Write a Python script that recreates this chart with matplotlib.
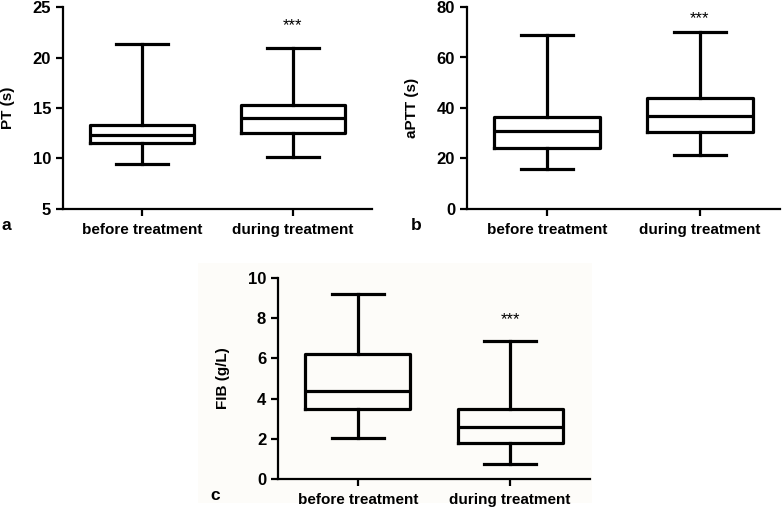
import matplotlib
matplotlib.use('Agg')
import matplotlib.pyplot as plt
from matplotlib.patches import Rectangle

plt.rcParams['font.family'] = ['Liberation Sans', 'DejaVu Sans']

groups = ['before treatment', 'during treatment']

# box stats: whislo, q1, med, q3, whishi
pt_before = [9.5, 11.5, 12.3, 13.3, 21.3]
pt_during = [10.1, 12.5, 14.0, 15.3, 20.9]
aptt_before = [16, 24, 31, 36.5, 69]
aptt_during = [21.5, 30.5, 37, 44, 70]
fib_before = [2.05, 3.5, 4.4, 6.2, 9.2]
fib_during = [0.75, 1.8, 2.6, 3.5, 6.85]

star_y = {'a': 23.2, 'b': 75.5, 'c': 7.95}

W, H = 782, 508
fig = plt.figure(figsize=(W / 100, H / 100), dpi=100)

# faint tinted background behind panel c
fig.patches.append(Rectangle((198 / W, 1 - 503 / H), (592 - 198) / W, (503 - 263) / H,
                             transform=fig.transFigure, facecolor='#fdfcf9',
                             edgecolor='none', zorder=-5))


def px_axes(left, right, top, bottom):
    return fig.add_axes([left / W, 1 - bottom / H, (right - left) / W, (bottom - top) / H])


def draw_panel(ax, before, during, ylabel, ylim, yticks, star, letter, letter_xy):
    stats = []
    for vals, name in zip([before, during], groups):
        lo, q1, med, q3, hi = vals
        stats.append(dict(whislo=lo, q1=q1, med=med, q3=q3, whishi=hi, label=name, fliers=[]))
    lw = 2.3
    ax.bxp(stats, positions=[1, 2], widths=0.69, showfliers=False,
           boxprops=dict(color='black', linewidth=lw),
           medianprops=dict(color='black', linewidth=lw),
           whiskerprops=dict(color='black', linewidth=lw),
           capprops=dict(color='black', linewidth=lw),
           manage_ticks=False)
    ax.set_xlim(0.475, 2.525)
    ax.set_ylim(*ylim)
    ax.set_yticks(yticks)
    ax.set_xticks([1, 2])
    ax.set_xticklabels(groups, fontsize=11, fontweight='bold')
    ax.set_ylabel(ylabel, fontsize=11, fontweight='bold', labelpad=13)
    ax.patch.set_alpha(0)
    for side in ['top', 'right']:
        ax.spines[side].set_visible(False)
    for side in ['left', 'bottom']:
        ax.spines[side].set_linewidth(1.6)
    ax.tick_params(axis='both', width=1.6, length=5, labelsize=12)
    ax.tick_params(axis='x', pad=5, labelsize=11)
    for t in ax.get_yticklabels():
        t.set_fontweight('bold')
    ax.text(2, star, '***', ha='center', va='center', fontsize=12)
    fig.text(letter_xy[0] / W, 1 - letter_xy[1] / H, letter, fontsize=12.5,
             fontweight='bold', ha='left', va='center')


ax_a = px_axes(63, 372, 7, 209)
draw_panel(ax_a, pt_before, pt_during, 'PT (s)', (5, 25), [5, 10, 15, 20, 25],
           star_y['a'], 'a', (1, 226))

ax_b = px_axes(467, 780, 7, 209)
draw_panel(ax_b, aptt_before, aptt_during, 'aPTT (s)', (0, 80), [0, 20, 40, 60, 80],
           star_y['b'], 'b', (411, 226))

ax_c = px_axes(278, 590, 278, 479)
draw_panel(ax_c, fib_before, fib_during, 'FIB (g/L)', (0, 10), [0, 2, 4, 6, 8, 10],
           star_y['c'], 'c', (210, 496))

fig.savefig('out.png', dpi=100)
